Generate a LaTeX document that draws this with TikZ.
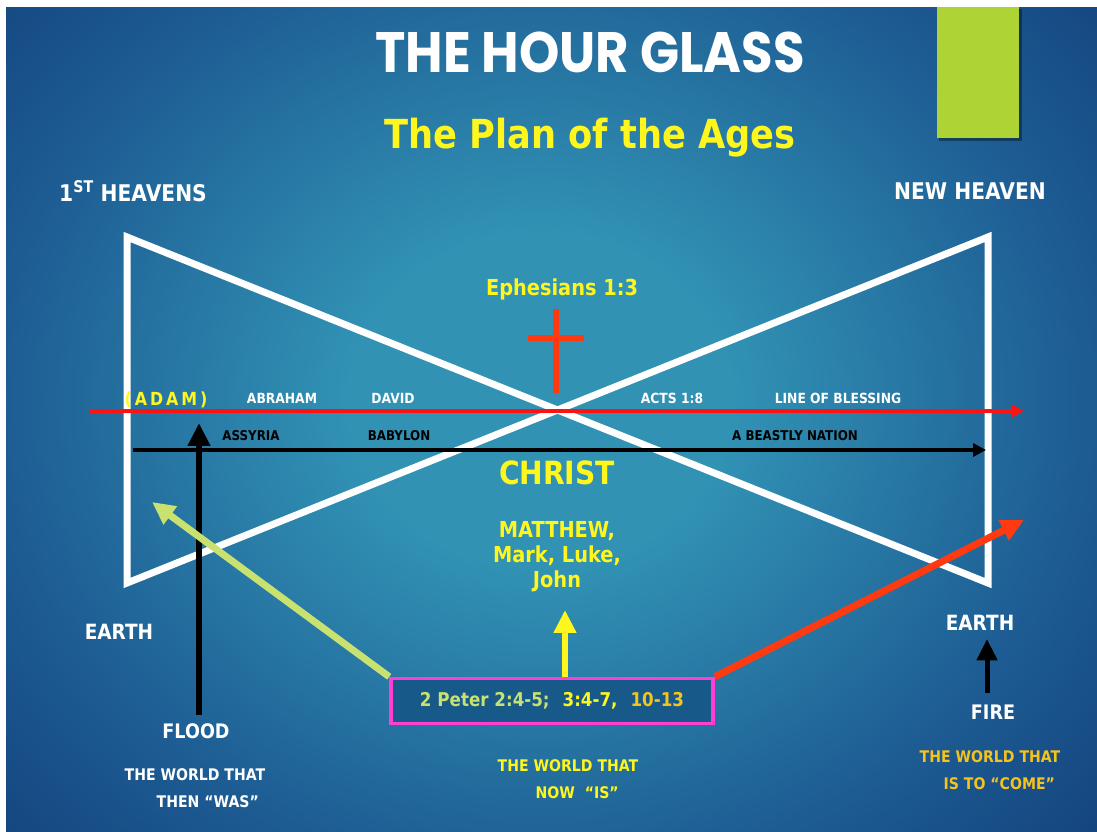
\documentclass[tikz,border=0pt]{standalone}
\usepackage{fontspec}
\setmainfont{DejaVu Sans}[FakeStretch=0.88]
\newfontfamily\titlefont{Poppins}[FakeStretch=0.9]
\usetikzlibrary{arrows.meta,positioning}
\definecolor{bgedge}{HTML}{0B2B69}
\definecolor{bgmid}{HTML}{1D5C93}
\definecolor{bgglow}{HTML}{3192B4}
\definecolor{barlime}{HTML}{ADD434}
\definecolor{txtyellow}{HTML}{FFF61E}
\definecolor{txtgold}{HTML}{F6C21C}
\definecolor{crossred}{HTML}{FF3A10}
\definecolor{blessred}{HTML}{FF1212}
\definecolor{leafgreen}{HTML}{C9E26F}
\definecolor{boxpink}{HTML}{FF3FD2}
\definecolor{boxfill}{HTML}{175A8A}
\pgfdeclareradialshading{skyglow}{\pgfpoint{0bp}{0bp}}{%
  color(0bp)=(bgglow); color(6bp)=(bgglow); color(17bp)=(bgmid);
  color(30bp)=(bgedge); color(50bp)=(bgedge)}
\tikzset{
  >={Triangle[length=4mm,width=4mm]},
  glass/.style={draw=white,line width=7pt,line join=miter},
  lineblk/.style={->,line width=4pt,>={Triangle[length=4.5mm,width=4.5mm]}},
  linered/.style={->,draw=blessred,line width=4pt,>={Triangle[length=4.5mm,width=4.5mm]}},
  bigarrow/.style={->,line width=7pt,>={Triangle[length=8mm,width=7.5mm]}},
  crossbar/.style={draw=crossred,line width=6pt},
  refbox/.style={draw=boxpink,fill=boxfill,line width=3.5pt,minimum width=322pt,
    minimum height=45pt,inner sep=0pt},
  every node/.style={inner sep=0pt,font=\bfseries},
  hdr/.style={text=white,font=\bfseries\fontsize{23}{27}\selectfont},
  era/.style={text=white,font=\bfseries\fontsize{14}{16}\selectfont},
  nation/.style={text=black,font=\bfseries\fontsize{13.5}{16}\selectfont},
  cause/.style={text=white,font=\bfseries\fontsize{20}{24}\selectfont},
  world/.style={font=\bfseries\fontsize{16}{27}\selectfont,align=left},
  gospel/.style={text=txtyellow,font=\bfseries\fontsize{22}{25}\selectfont,align=center},
}

\begin{document}
\begin{tikzpicture}[x=1pt,y=-1pt]
  \useasboundingbox (0,0) rectangle (1097,831);
  \fill[white] (0,0) rectangle (1097,831);
  \begin{scope}
    \clip (6,7) rectangle (1097,831);
    \shade[shading=skyglow] (-260,-300) rectangle (1340,1100);
  \end{scope}
  \fill[black,opacity=0.35] (939,9) rectangle (1022,141);
  \fill[barlime] (937,7) rectangle (1019,138);

  \node[text=white,font=\titlefont\bfseries\fontsize{57}{60}\selectfont] (title) at (590,52) {THE HOUR GLASS};
  \node[text=txtyellow,font=\bfseries\fontsize{40}{44}\selectfont] (plan) at (590,138) {The Plan of the Ages};

  \node[hdr] (firsthvn) at (133,191) {1\textsuperscript{ST} HEAVENS};
  \node[hdr] (newhvn) at (970,191) {NEW HEAVEN};

  % the hour glass
  \coordinate (tl) at (127,237);
  \coordinate (bl) at (127,583);
  \coordinate (tr) at (988,237);
  \coordinate (br) at (988,583);
  \draw[glass] (tl) -- (br) -- (tr) -- (bl) -- cycle;

  \node[text=txtyellow,font=\bfseries\fontsize{22}{25}\selectfont] (eph) at (562,289) {Ephesians 1:3};
  \coordinate (crosstop) at (556,309);
  \coordinate (crossfoot) at (556,393);
  \coordinate (armL) at (528,338);
  \coordinate (armR) at (584,338);
  \draw[crossbar] (crosstop) -- (crossfoot);
  \draw[crossbar] (armL) -- (armR);

  % line of blessing and the nations
  \coordinate (blessL) at (90,411);
  \coordinate (blessR) at (1024,411);
  \draw[linered] (blessL) -- (blessR);
  \coordinate (beastL) at (133,450);
  \coordinate (beastR) at (986,450);
  \draw[lineblk] (beastL) -- (beastR);

  \node[text=txtyellow,font=\bfseries\fontsize{18}{20}\selectfont] (adam) at (166,400) {(\,A\,D\,A\,M\,)};
  \node[era] (abraham) at (282,398) {ABRAHAM};
  \node[era] (david) at (393,398) {DAVID};
  \node[era] (acts) at (672,398) {ACTS 1:8};
  \node[era] (blessing) at (838,398) {LINE OF BLESSING};
  \node[nation] (assyria) at (251,436) {ASSYRIA};
  \node[nation] (babylon) at (399,436) {BABYLON};
  \node[nation] (beast) at (795,436) {A BEASTLY NATION};

  \node[text=txtyellow,font=\bfseries\fontsize{32}{36}\selectfont] (christ) at (557,473) {CHRIST};
  \node[gospel] (gospels) at (557,557) {MATTHEW,\\Mark, Luke,\\John};

  \node[cause,font=\bfseries\fontsize{21}{24}\selectfont] (earthL) at (119,632) {EARTH};
  \node[cause,font=\bfseries\fontsize{21}{24}\selectfont] (earthR) at (980,623) {EARTH};
  \node[cause] (flood) at (196,731) {FLOOD};
  \node[cause] (fire) at (993,712) {FIRE};

  \coordinate (floodtip) at (199,423);
  \draw[bigarrow,line width=6pt] (flood.north -| floodtip) ++(0,-8) -- (floodtip);
  \coordinate (firetip) at (987,639);
  \draw[bigarrow,line width=5pt,>={Triangle[length=7.5mm,width=7mm]}] (fire.north -| firetip) ++(0,-12) -- (firetip);

  % the scripture box and its three arrows
  \node[refbox,font=\bfseries\fontsize{19}{22}\selectfont] (peter) at (552,701)
    {\textcolor{leafgreen}{2 Peter 2:4-5;}\hspace{13pt}\textcolor{txtyellow}{3:4-7,}\hspace{13pt}\textcolor{txtgold}{10-13}};
  \coordinate (wastip) at (152,502);
  \coordinate (istip) at (565,610);
  \coordinate (cometip) at (1024,520);
  \draw[bigarrow,draw=leafgreen] (peter.north west) -- (wastip);
  \draw[bigarrow,draw=txtyellow,line width=6pt] (peter.north -| istip) -- (istip);
  \draw[bigarrow,draw=crossred] (peter.north east) -- (cometip);

  \node[world,text=white] (was) at (195,788) {THE WORLD THAT\\\hspace*{32pt}THEN \textquotedblleft WAS\textquotedblright};
  \node[world,text=txtyellow] (is) at (568,779) {THE WORLD THAT\\\hspace*{38pt}NOW \ \textquotedblleft IS\textquotedblright};
  \node[world,text=txtgold] (come) at (990,770) {THE WORLD THAT\\\hspace*{24pt}IS TO \textquotedblleft COME\textquotedblright};
\end{tikzpicture}
\end{document}
